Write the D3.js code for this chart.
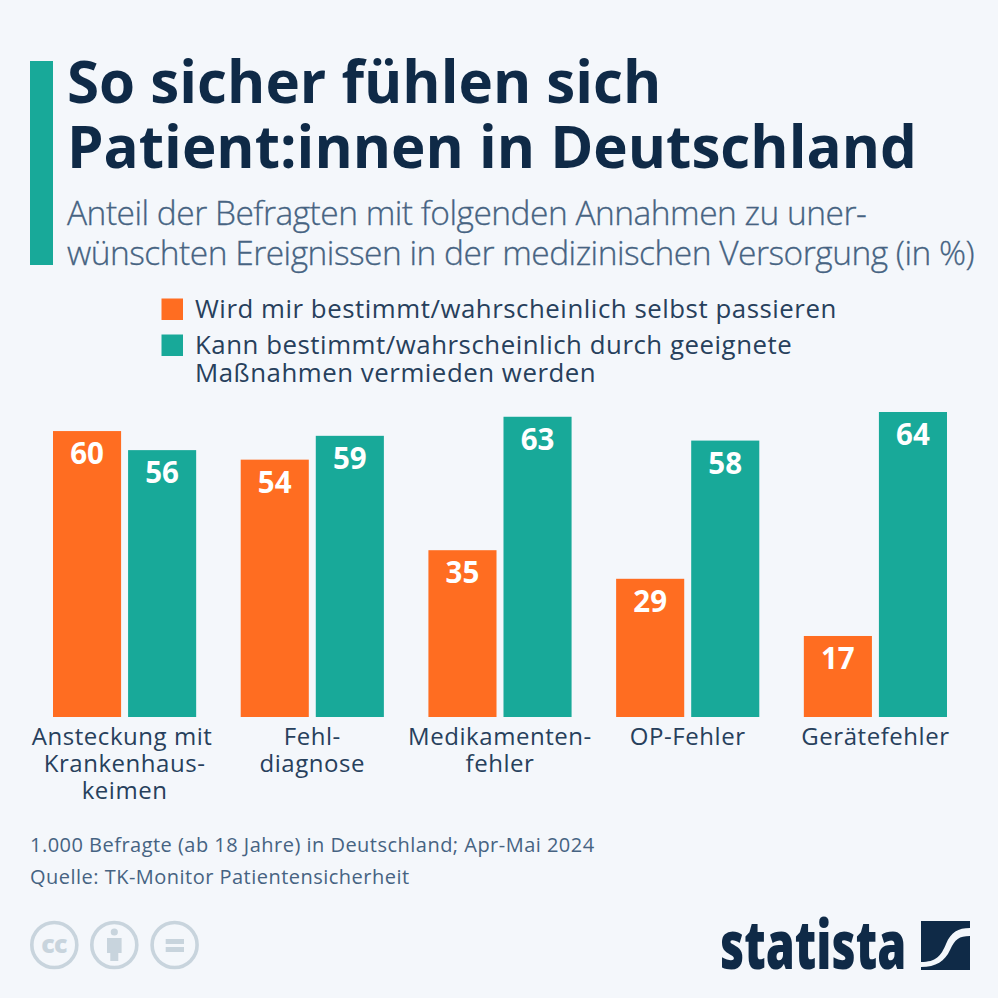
<!DOCTYPE html>
<html>
<head>
<meta charset="utf-8">
<script src="https://cdn.jsdelivr.net/npm/d3@7"></script>
<style>
  html, body { margin: 0; padding: 0; background: #f4f7fb; }
  text { font-family: "Open Sans", sans-serif; }
</style>
</head>
<body>
<div id="chart"></div>
<script>
const categories = ["Ansteckung", "Fehldiagnose", "Medikamentenfehler", "OP-Fehler", "Gerätefehler"];
const categoryLabels = [
    ["Ansteckung mit", "Krankenhaus-", "keimen"],
    ["Fehl-", "diagnose"],
    ["Medikamenten-", "fehler"],
    ["OP-Fehler"],
    ["Gerätefehler"]
];
const selfValues = [60, 54, 35, 29, 17];
const avoidValues = [56, 59, 63, 58, 64];

const seriesNames = ["self", "avoid"];
const seriesColors = ["#ff6d21", "#18a999"];

const titleLines = ["So sicher fühlen sich", "Patient:innen in Deutschland"];
const subtitleLines = ["Anteil der Befragten mit folgenden Annahmen zu uner-", "wünschten Ereignissen in der medizinischen Versorgung (in %)"];
const legendLines = [
    ["Wird mir bestimmt/wahrscheinlich selbst passieren"],
    ["Kann bestimmt/wahrscheinlich durch geeignete", "Maßnahmen vermieden werden"]
];
const footerLines = ["1.000 Befragte (ab 18 Jahre) in Deutschland; Apr-Mai 2024", "Quelle: TK-Monitor Patientensicherheit"];

const dark = "#0f2a47", slate = "#466382", iconGrey = "#c8d4dd";

const svg = d3.select("#chart").append("svg")
    .attr("width", 998)
    .attr("height", 998)
    .style("display", "block");

svg.append("rect").attr("width", 998).attr("height", 998).attr("fill", "#f4f7fb");

// header
svg.append("rect").attr("x", 30).attr("y", 61).attr("width", 23).attr("height", 204).attr("fill", seriesColors[1]);

svg.selectAll(".title").data(titleLines).enter().append("text")
    .attr("class", "title")
    .attr("x", 67)
    .attr("y", (d, i) => 103 + i * 65)
    .attr("font-size", 58.3)
    .attr("font-weight", 700)
    .attr("fill", dark)
    .text(d => d);

svg.selectAll(".subtitle").data(subtitleLines).enter().append("text")
    .attr("class", "subtitle")
    .attr("x", 67)
    .attr("y", (d, i) => 225 + i * 40)
    .attr("font-size", 33.5)
    .attr("font-weight", 300)
    .attr("letter-spacing", -0.5)
    .attr("fill", slate)
    .attr("stroke", slate)
    .attr("stroke-width", 0.3)
    .text(d => d);

// legend
const legendY = [309, 345];
legendLines.forEach((lines, i) => {
    svg.append("rect")
        .attr("x", 161.5).attr("y", legendY[i] - 10.5)
        .attr("width", 21.5).attr("height", 21.5)
        .attr("fill", seriesColors[i]);
    lines.forEach((line, j) => {
        svg.append("text")
            .attr("x", 195)
            .attr("y", legendY[i] + 9 + j * 27.8)
            .attr("font-size", 25.8)
            .attr("letter-spacing", 0.54)
            .attr("fill", "#27405c")
            .text(line);
    });
});

// chart
const x0 = d3.scaleBand().domain(categories).range([53, 947]).paddingInner(0.2373).paddingOuter(0);
const x1 = d3.scaleBand().domain(seriesNames).range([0, x0.bandwidth()]).paddingInner(0.093).paddingOuter(0);
const y = d3.scaleLinear().domain([0, 64]).range([717, 412]);

const rows = categories.map((c, i) => ({ category: c, self: selfValues[i], avoid: avoidValues[i] }));

const groups = svg.selectAll(".group").data(rows).enter().append("g")
    .attr("class", "group")
    .attr("transform", d => "translate(" + x0(d.category) + ",0)");

const color = d3.scaleOrdinal().domain(seriesNames).range(seriesColors);

const cells = groups.selectAll("g").data(d => seriesNames.map(s => ({ s: s, value: d[s] }))).enter().append("g");

cells.append("rect")
    .attr("x", d => x1(d.s))
    .attr("y", d => y(d.value))
    .attr("width", x1.bandwidth())
    .attr("height", d => y(0) - y(d.value))
    .attr("fill", d => color(d.s));

cells.append("text")
    .attr("x", d => x1(d.s) + x1.bandwidth() / 2)
    .attr("y", d => y(d.value) + 33)
    .attr("text-anchor", "middle")
    .attr("font-size", 29.5)
    .attr("font-weight", 700)
    .attr("fill", "#fff")
    .text(d => d.value);

// category labels
groups.each(function (d, i) {
    d3.select(this).selectAll(".cat").data(categoryLabels[i]).enter().append("text")
        .attr("class", "cat")
        .attr("x", (t, j) => x0.bandwidth() / 2 - (i == 0 && j == 0 ? 2.5 : 0))
        .attr("y", (t, j) => 745 + j * 27)
        .attr("text-anchor", "middle")
        .attr("font-size", 24)
        .attr("letter-spacing", 0.55)
        .attr("fill", "#27405c")
        .text(t => t);
});

// footer
svg.selectAll(".foot").data(footerLines).enter().append("text")
    .attr("class", "foot")
    .attr("x", 30)
    .attr("y", (d, i) => 852 + i * 32)
    .attr("font-size", 20)
    .attr("letter-spacing", 0.48)
    .attr("fill", slate)
    .text(d => d);

// licence icons
const icons = svg.append("g").attr("fill", "none").attr("stroke", iconGrey);
[54.3, 114.3, 174.6].forEach(cx => {
    icons.append("circle").attr("cx", cx).attr("cy", 945).attr("r", 22.5).attr("stroke-width", 3.6);
});
svg.append("text").attr("x", 54).attr("y", 953).attr("text-anchor", "middle")
    .attr("font-size", 25).attr("font-weight", 800).attr("letter-spacing", -0.8).attr("fill", iconGrey).text("cc");
svg.append("circle").attr("cx", 114.3).attr("cy", 932).attr("r", 3.6).attr("fill", iconGrey);
svg.append("path").attr("fill", iconGrey).attr("d", "M107 938h14.6v15h-3.3v8h-8v-8h-3.3z");
svg.append("rect").attr("x", 165.7).attr("y", 939).attr("width", 18.3).attr("height", 5).attr("fill", iconGrey);
svg.append("rect").attr("x", 165.7).attr("y", 947).attr("width", 18.3).attr("height", 5).attr("fill", iconGrey);

// statista logo
svg.append("text")
    .attr("transform", "translate(720,968.5) scale(0.835,1.2)")
    .attr("font-size", 56)
    .attr("font-weight", 800)
    .attr("fill", dark)
    .text("statista");
svg.append("path").attr("fill", dark)
    .attr("d", "M921 921h49v7c-12 0-19 4-24 16c-5 12-10 18-25 18z");
svg.append("path").attr("fill", dark)
    .attr("d", "M970 936v34h-49v-3c15 0 24-6 29-17c5-11 9-14 20-14z");
</script>
</body>
</html>
